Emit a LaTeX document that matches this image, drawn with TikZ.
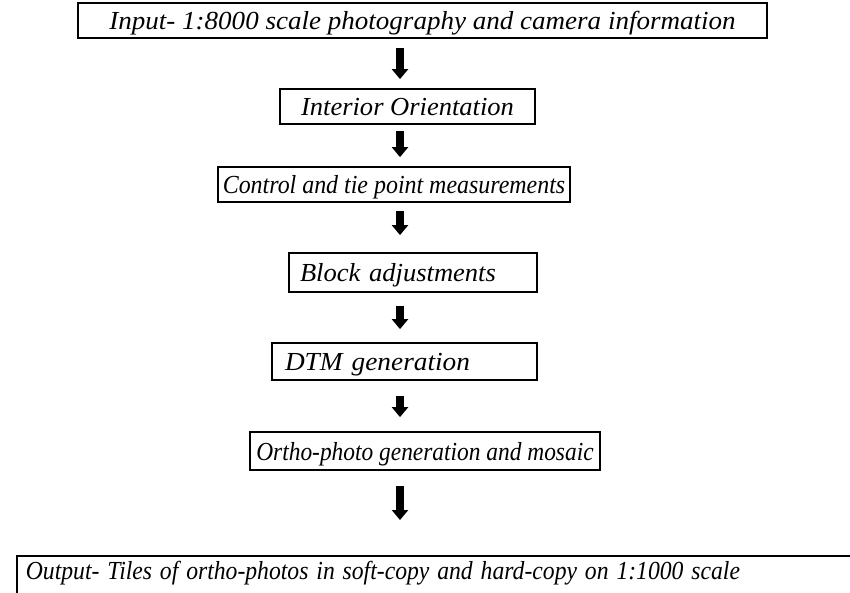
\documentclass[tikz,border=0pt]{standalone}
\usepackage{fontspec}
\setmainfont{Liberation Serif}
\usetikzlibrary{arrows.meta}
\newcommand{\hs}[2]{\scalebox{#1}[1]{#2}}
\tikzset{
  pbox/.style={draw, line width=1.8pt, inner ysep=0pt, font=\fontsize{26}{29}\selectfont\itshape, text height=18pt, text depth=0pt},
  fat/.style={line width=7.5pt, -{Triangle[width=16pt,length=10pt]}}
}
\begin{document}
\begin{tikzpicture}[x=1pt,y=-1pt]
\useasboundingbox (0,0) rectangle (850,592);
\clip (0,0) rectangle (850,592);
\coordinate (ax) at (400,0);
\node[pbox, minimum width=689, minimum height=35] (n1) at (422.5,20.5) {\hs{1.04}{Input- 1:8000 scale photography and camera information}};
\node[pbox, minimum width=255, minimum height=35] (n2) at (407.5,106.5) {\hs{1.02}{Interior Orientation}};
\node[pbox, minimum width=352, minimum height=35] (n3) at (394,184.5) {\hs{0.92}{Control and tie point measurements}};
\node[pbox, text width=226, align=left, inner xsep=11, minimum height=39] (n4) at (413,272.5) {\hs{1.02}{Block adjustments}};
\node[pbox, text width=239, align=left, inner xsep=13, minimum height=37] (n5) at (404.5,361.5) {\hs{1.05}{DTM generation}};
\node[pbox, minimum width=350, minimum height=38] (n6) at (425,451) {\hs{0.90}{Ortho-photo generation and mosaic}};
\node[pbox, text width=860, align=left, inner xsep=9, inner ysep=6, text depth=30pt, anchor=north west] (n7) at (16,555) {\hs{0.91}{Output- Tiles of ortho-photos in soft-copy and hard-copy on 1:1000 scale}};
\draw[fat, shorten <=9pt, shorten >=9pt] (n1.south -| ax) -- (n2.north -| ax);
\draw[fat, shorten <=6pt, shorten >=9pt] (n2.south -| ax) -- (n3.north -| ax);
\draw[fat, shorten <=8pt, shorten >=17pt] (n3.south -| ax) -- (n4.north -| ax);
\draw[fat, shorten <=13pt, shorten >=13pt] (n4.south -| ax) -- (n5.north -| ax);
\draw[fat, shorten <=15pt, shorten >=14pt] (n5.south -| ax) -- (n6.north -| ax);
\draw[fat, shorten <=15pt, shorten >=35pt] (n6.south -| ax) -- (n7.north -| ax);
\end{tikzpicture}
\end{document}
